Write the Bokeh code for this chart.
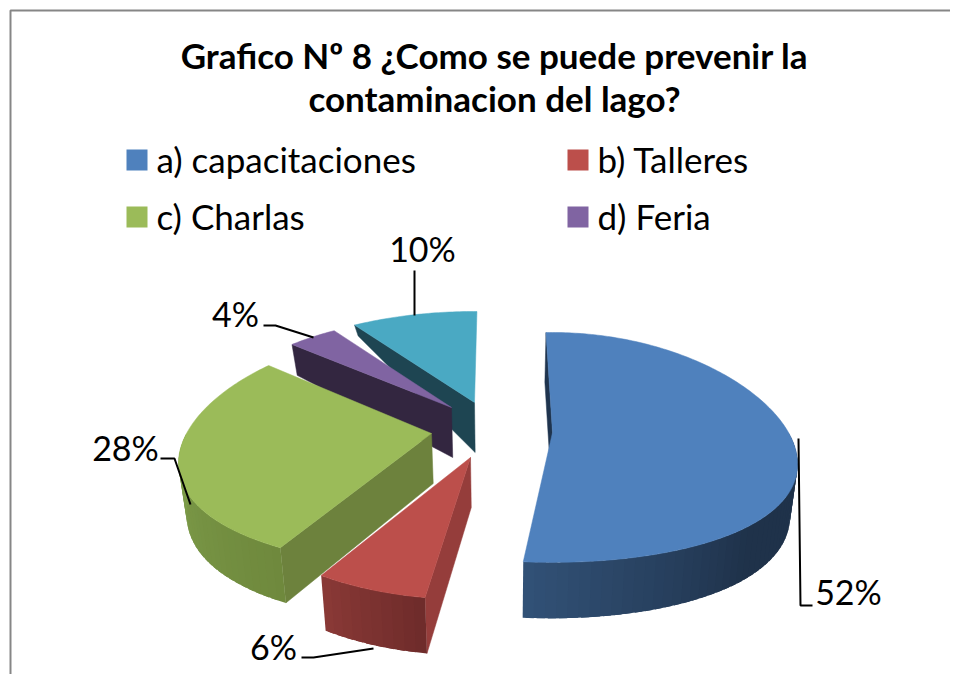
import numpy as np
from bokeh.plotting import figure
from bokeh.models import ColumnDataSource, Range1d
from bokeh.core.properties import value
from bokeh.embed import file_html
from bokeh.resources import INLINE

# ---- data ----
categories = ["a) capacitaciones", "b) Talleres", "c) Charlas", "d) Feria", "e)"]
values = [52, 6, 28, 4, 10]
title_lines = ["Grafico Nº 8 ¿Como se puede prevenir la", "contaminacion del lago?"]

# ---- styles ----
top_colors = ["#4f81bd", "#bc4f4b", "#9bbb59", "#8064a2", "#4aa9c3"]
face_colors = ["#1f344e", "#953d3b", "#6d823d", "#332640", "#1e4552"]
rim_left = ["#325278", "#8c3a37", "#80a04c", "#332640", "#1e4552"]
rim_right = ["#1f324a", "#6f2c2b", "#6f893d", "#332640", "#1e4552"]

# ---- per-slice projection of the exploded 3-D pie ----
apex_x = [552, 470, 431, 451, 474]
apex_y = [432, 457, 433, 407, 402]
rad_x = [236, 234, 245, 240, 250]
rad_y = [113, 108, 115.5, 116.5, 116.5]
k_x = [0.27, 0.25, 0.25, 0.25, 0.25]
k_y = [0.13, 0.24, 0.13, 0.28, 0.28]
rot = [-2, 1.2, 0, 0, 0.7]
back_depth = [50, 50, 50, 20, 2]
DEPTH = 50

def rim_point(i, deg):
    t = np.radians(deg)
    u, v = np.sin(t), np.cos(t)
    return (apex_x[i] + rad_x[i] * u / (1 + k_x[i] * v),
            apex_y[i] - rad_y[i] * v / (1 + k_y[i] * v), v)

def depth_at(i, v):
    if v < 0:
        return DEPTH - 6 * v
    return DEPTH + (back_depth[i] - DEPTH) * v

def lower(x, y, d):
    return x + (500 - x) * 0.025, y + d

def hex_mix(a, b, t):
    ca = [int(a[j:j + 2], 16) for j in (1, 3, 5)]
    cb = [int(b[j:j + 2], 16) for j in (1, 3, 5)]
    return "#%02x%02x%02x" % tuple(int(round(p + (q - p) * t)) for p, q in zip(ca, cb))

xs, ys, fills, widths = [], [], [], []
def add(px, py, color, w=0.5):
    xs.append(list(px)); ys.append(list(py)); fills.append(color); widths.append(w)

edges = np.concatenate([[0], np.cumsum(values)]) * 3.6
for i in [4, 3, 2, 1, 0]:
    a0, a1 = edges[i] + rot[i], edges[i + 1] + rot[i]
    # visible cut face at the start of the slice
    cx, cy, cv = rim_point(i, a0)
    bx, by = lower(cx, cy, depth_at(i, cv))
    ax2, ay2 = lower(apex_x[i], apex_y[i], DEPTH)
    add([cx, bx, ax2, apex_x[i]], [cy, by, ay2, apex_y[i]], face_colors[i])
    # outer rim, only its front part; each band overlaps the previous one
    r0, r1 = max(a0, 90), min(a1, 270)
    if r1 > r0:
        steps = np.linspace(r0, r1, max(2, int((r1 - r0) / 2) + 1))
        for s0, s1 in zip(steps[:-1], steps[1:]):
            s2 = min(r1, s1 + 1.5)
            x0, y0, v0 = rim_point(i, s0)
            x1, y1, v1 = rim_point(i, s2)
            bx0, by0 = lower(x0, y0, depth_at(i, v0))
            bx1, by1 = lower(x1, y1, depth_at(i, v1))
            span = 1.0 if i else 0.5
            tt = min(1.0, (r1 - s0) / ((r1 - r0) * span))
            add([x0, x1, bx1, bx0], [y0, y1, by1, by0], hex_mix(rim_left[i], rim_right[i], tt), 0)
    # top surface
    arc = [rim_point(i, a) for a in np.linspace(a0, a1, max(3, int(a1 - a0) + 1))]
    add([apex_x[i]] + [p[0] for p in arc], [apex_y[i]] + [p[1] for p in arc], top_colors[i])

p = figure(width=950, height=674, output_backend="svg", toolbar_location=None,
           x_range=Range1d(0, 950), y_range=Range1d(674, 0),
           x_axis_type=None, y_axis_type=None, min_border=0)
p.grid.visible = False
p.outline_line_color = None
p.background_fill_color = "white"
p.border_fill_color = "white"

# chart border
p.line([10, 10, 950], [674, 10, 10], line_color="#868686", line_width=2)

p.patches("x", "y", fill_color="c", line_color="c", line_width="w",
          source=ColumnDataSource(dict(x=xs, y=ys, c=fills, w=widths)))

# title
p.text([494, 494], [54, 97], text=title_lines, text_font=value("Lato"), text_font_style="bold",
       text_font_size="35px", text_align="center", text_baseline="middle", text_color="#000000")

# legend
leg_x = [126, 567, 126, 567]
leg_y = [149, 149, 206, 206]
for i in range(4):
    p.quad(left=[leg_x[i]], right=[leg_x[i] + 21], top=[leg_y[i]], bottom=[leg_y[i] + 21],
           fill_color=top_colors[i], line_color=None)
    p.text([leg_x[i] + 30], [leg_y[i] + 9], text=[categories[i]], text_font=value("Lato"),
           text_font_size="35px", text_align="left", text_baseline="middle", text_color="#000000")

# data labels and leaders
label_x = [848, 273, 125, 235, 422]
label_y = [591, 646, 447, 313, 248]
leader_x = [[798, 800, 812], [301, 313, 373], [160, 174, 190], [263, 275, 313], [414, 414]]
leader_y = [[438, 605, 605], [657, 657, 648], [458, 458, 504], [325, 325, 337], [270, 315]]
for i, v in enumerate(values):
    p.line(leader_x[i], leader_y[i], line_color="#000000", line_width=2)
    p.text([label_x[i]], [label_y[i]], text=[f"{v}%"], text_font=value("Lato"),
           text_font_size="34px", text_align="center", text_baseline="middle", text_color="#000000")

open("out.html", "w").write(file_html(p, INLINE))
